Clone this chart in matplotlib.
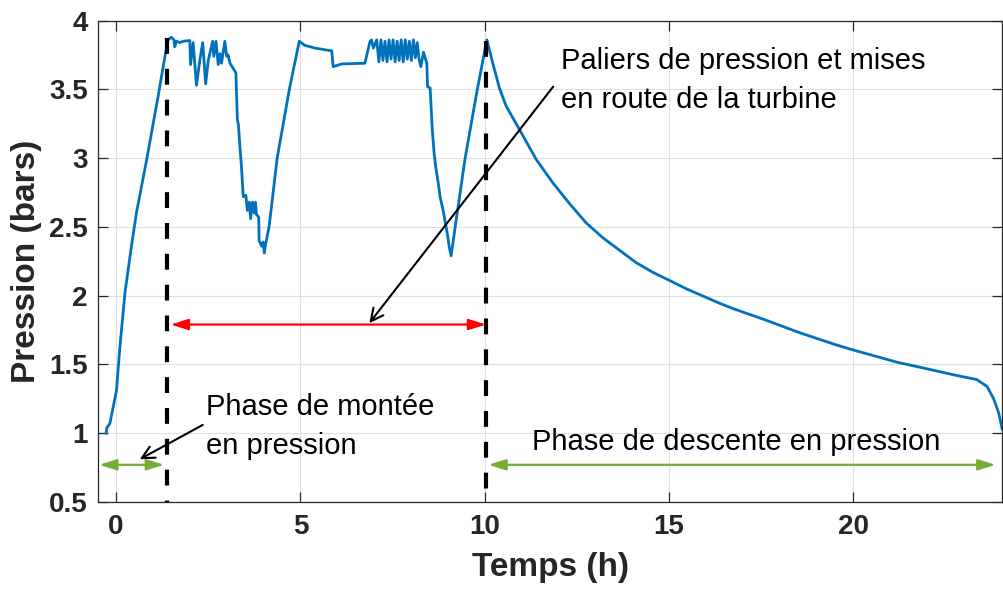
import matplotlib
matplotlib.use('Agg')
import matplotlib.pyplot as plt
from matplotlib.ticker import FormatStrFormatter

plt.rcParams['font.family'] = ['Liberation Sans', 'DejaVu Sans']

# pressure log (h, bars)
temps = [
    -0.27, -0.25, -0.17, 0.01, 0.10, 0.24, 0.40, 0.55, 0.83, 1.14,
    1.37, 1.41,
    1.50, 1.57, 1.59, 1.64, 1.73, 1.82, 2.00, 2.02, 2.09, 2.18,
    2.27, 2.35, 2.43, 2.50, 2.62, 2.65, 2.71, 2.77, 2.82, 2.86,
    2.95, 3.00, 3.04, 3.09, 3.18, 3.25, 3.29, 3.32, 3.36, 3.40,
    3.45, 3.52, 3.56, 3.61, 3.65, 3.70, 3.75, 3.78, 3.81, 3.87,
    3.88, 3.95, 3.99, 4.02, 4.06, 4.15, 4.37, 4.70, 4.97, 5.12,
    5.40, 5.85, 5.89, 6.12, 6.75, 6.89, 6.93, 6.98, 7.07, 7.13,
    7.185, 7.24, 7.295, 7.35, 7.405, 7.46, 7.515, 7.57, 7.625, 7.68,
    7.735, 7.79, 7.845, 7.90, 7.955, 8.01, 8.065, 8.12, 8.17, 8.22,
    8.27, 8.34, 8.43, 8.45, 8.52, 8.55, 8.58, 8.63, 8.67, 8.74,
    8.79, 8.83, 8.88, 8.92, 9.00, 9.04, 9.09, 9.20, 9.47, 9.80,
    10.06, 10.22, 10.40, 10.58, 10.94, 11.40, 11.85, 12.30, 12.75, 13.21,
    13.66, 14.11, 14.56, 15.02, 15.47, 15.90, 16.37, 16.80, 17.28, 17.60,
    18.00, 18.50, 19.00, 19.50, 20.00, 20.60, 21.20, 21.80, 22.30, 22.80,
    23.35, 23.63, 23.81, 23.95, 24.04,
]
pression = [
    1.00, 1.04, 1.07, 1.31, 1.62, 2.02, 2.33, 2.60, 2.99, 3.45,
    3.81, 3.86,
    3.88, 3.86, 3.81, 3.85, 3.84, 3.85, 3.855, 3.68, 3.84, 3.53,
    3.71, 3.84, 3.54, 3.71, 3.85, 3.74, 3.85, 3.68, 3.76, 3.69,
    3.85, 3.74, 3.75, 3.69, 3.65, 3.62, 3.28, 3.24, 3.08, 2.94,
    2.72, 2.73, 2.62, 2.68, 2.56, 2.68, 2.60, 2.68, 2.59, 2.57,
    2.40, 2.36, 2.39, 2.31, 2.38, 2.50, 3.00, 3.50, 3.85, 3.82,
    3.80, 3.78, 3.665, 3.685, 3.69, 3.85, 3.86, 3.80, 3.86, 3.70,
    3.86, 3.71, 3.85, 3.70, 3.86, 3.72, 3.86, 3.70, 3.85, 3.71,
    3.86, 3.70, 3.86, 3.72, 3.85, 3.71, 3.86, 3.73, 3.84, 3.72,
    3.665, 3.77, 3.69, 3.52, 3.51, 3.35, 3.20, 3.03, 2.94, 2.82,
    2.72, 2.67, 2.61, 2.55, 2.43, 2.35, 2.29, 2.50, 3.00, 3.50,
    3.86, 3.69, 3.51, 3.38, 3.21, 2.99, 2.82, 2.67, 2.53, 2.42,
    2.33, 2.24, 2.17, 2.11, 2.05, 2.00, 1.945, 1.90, 1.855, 1.825,
    1.785, 1.735, 1.69, 1.645, 1.605, 1.56, 1.515, 1.48, 1.45, 1.42,
    1.39, 1.34, 1.25, 1.145, 1.03,
]

# phase limits (h)
t_debut_paliers = 1.39
t_fin_paliers = 10.04
sommet_1 = 3.87
sommet_2 = 3.85

fig = plt.figure(figsize=(10.04, 5.94), dpi=100)
ax = fig.add_axes([0.0973, 0.155, 0.9012, 0.8103])

gris = '#262626'

ax.plot(temps, pression, color='#0072BD', lw=2.0, zorder=3)

# dashed phase separators
ax.plot([t_debut_paliers, t_debut_paliers], [sommet_1, 0.5], color='k',
        lw=3, linestyle=(0, (3.8, 3.6)), zorder=4)
ax.plot([t_fin_paliers, t_fin_paliers], [sommet_2, 0.5], color='k',
        lw=3, linestyle=(0, (3.8, 3.6)), zorder=4)

fleche = '<|-|>,head_length=0.7,head_width=0.22'
# red : paliers
ax.annotate('', xy=(1.48, 1.79), xytext=(t_fin_paliers, 1.79),
            arrowprops=dict(arrowstyle=fleche, color='red', lw=1.6,
                            mutation_scale=15, shrinkA=0, shrinkB=0))
# green : montee / descente
ax.annotate('', xy=(-0.46, 0.77), xytext=(1.30, 0.77),
            arrowprops=dict(arrowstyle=fleche, color='#77AC30', lw=1.6,
                            mutation_scale=15, shrinkA=0, shrinkB=0))
ax.annotate('', xy=(10.10, 0.77), xytext=(23.86, 0.77),
            arrowprops=dict(arrowstyle=fleche, color='#77AC30', lw=1.6,
                            mutation_scale=15, shrinkA=0, shrinkB=0))

# black pointers
pointeur = '->,head_length=0.6,head_width=0.3'
ax.annotate('', xy=(6.87, 1.80), xytext=(11.86, 3.52),
            arrowprops=dict(arrowstyle=pointeur, color='k', lw=1.5,
                            mutation_scale=15, shrinkA=0, shrinkB=0))
ax.annotate('', xy=(0.64, 0.81), xytext=(2.35, 1.06),
            arrowprops=dict(arrowstyle=pointeur, color='k', lw=1.5,
                            mutation_scale=15, shrinkA=0, shrinkB=0))

# multi-line texts: y is the baseline of the last line
ax.text(12.07, 3.362, 'Paliers de pression et mises\nen route de la turbine',
        fontsize=21, va='baseline', ha='left', linespacing=1.5, color='k')
ax.text(2.45, 0.846, 'Phase de montée\nen pression',
        fontsize=21, va='baseline', ha='left', linespacing=1.5, color='k')
ax.text(11.28, 0.876, 'Phase de descente en pression',
        fontsize=21, va='baseline', ha='left', color='k')

ax.set_xlim(-0.5, 24.05)
ax.set_ylim(0.5, 4)
ax.set_xticks([0, 5, 10, 15, 20])
ax.set_yticks([0.5, 1, 1.5, 2, 2.5, 3, 3.5, 4])
ax.yaxis.set_major_formatter(FormatStrFormatter('%g'))

ax.grid(True, color='#dfdfdf', lw=0.8)
ax.set_axisbelow(True)
for s in ax.spines.values():
    s.set_color(gris)
    s.set_linewidth(0.9)
ax.tick_params(direction='in', length=7, width=0.9, colors=gris,
               top=True, right=True, labelsize=20)
ax.tick_params(axis='x', pad=9)
ax.tick_params(axis='y', pad=7)
for lab in ax.get_xticklabels() + ax.get_yticklabels():
    lab.set_fontweight('bold')

ax.set_xlabel('Temps (h)', fontsize=24, fontweight='bold', color=gris,
              labelpad=8)
ax.set_ylabel('Pression (bars)', fontsize=24, fontweight='bold', color=gris,
              labelpad=5)

fig.savefig('out.png', dpi=100)
